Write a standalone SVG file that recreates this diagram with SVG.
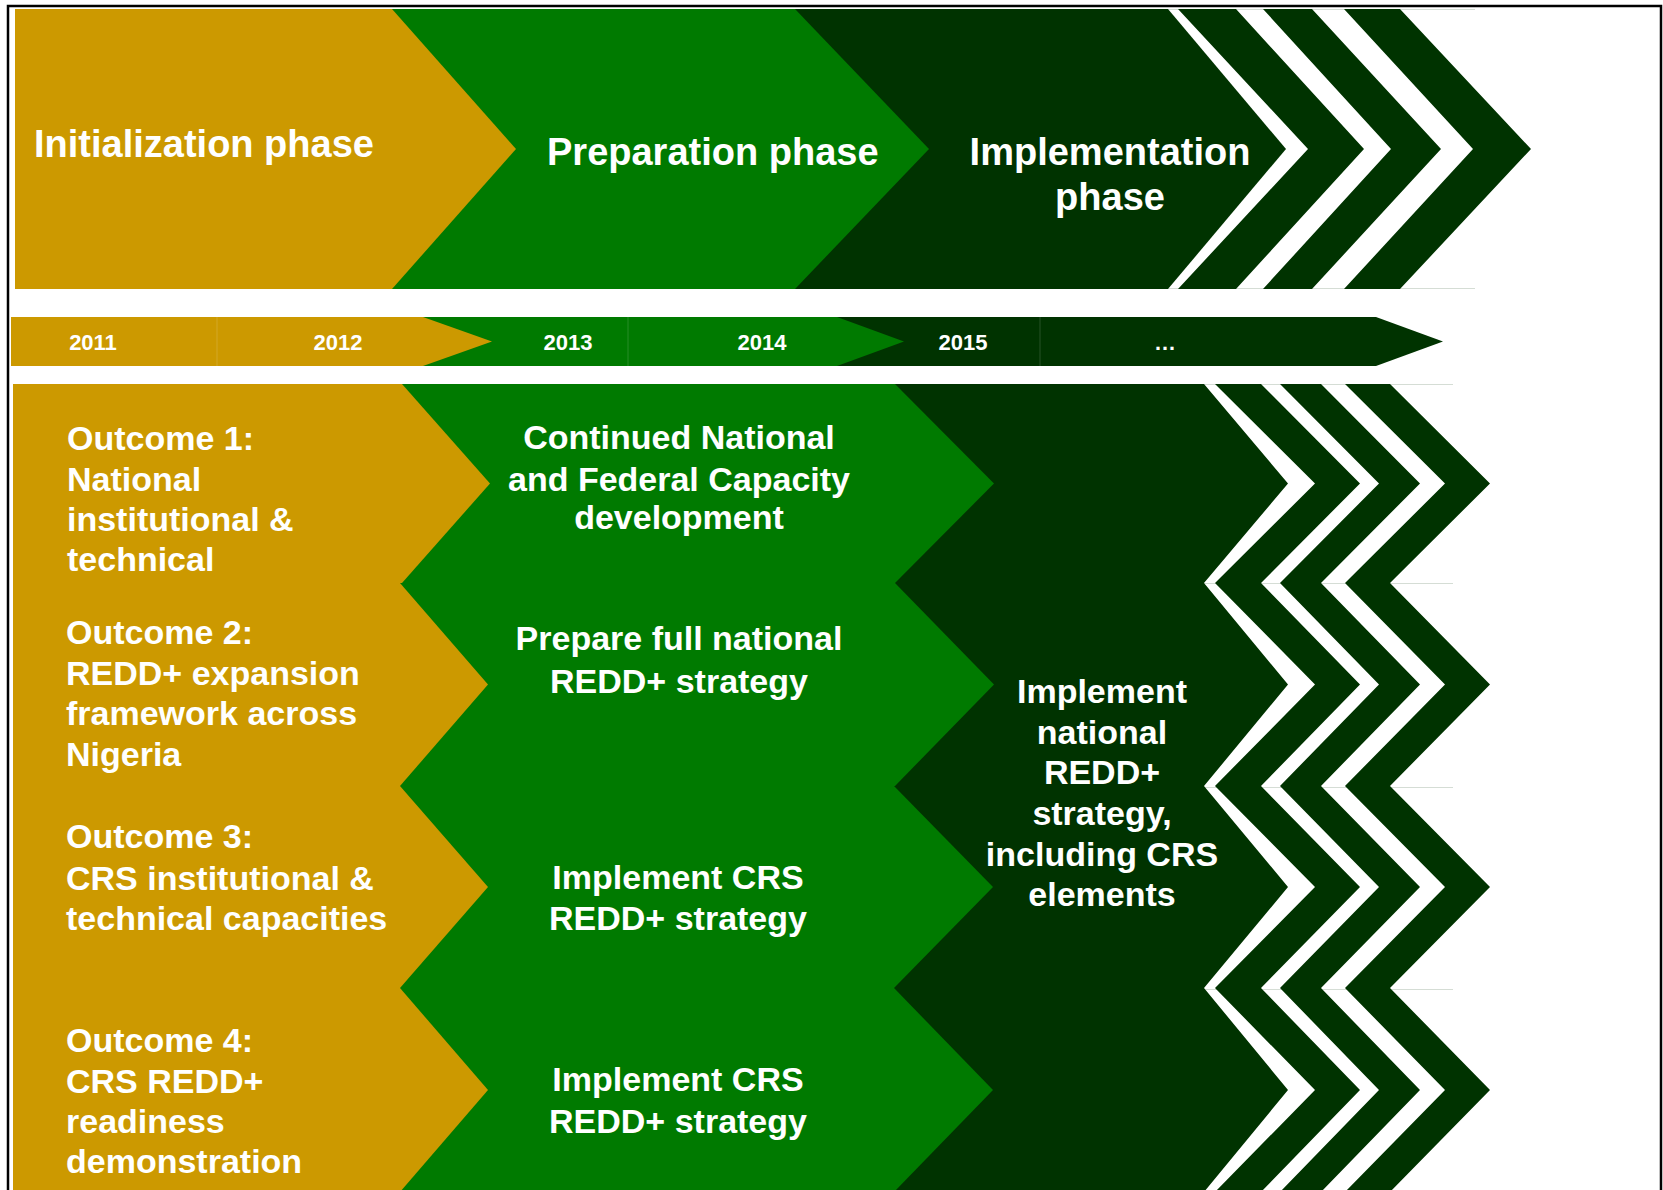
<svg xmlns="http://www.w3.org/2000/svg" width="1663" height="1190" viewBox="0 0 1663 1190">
<style>
.gold{fill:#CC9900}
.green{fill:#007A00}
.dark{fill:#003300}
.t{font-family:"Liberation Sans",Arial,sans-serif;font-weight:bold;fill:#FFFFFF}
.ph{font-size:38px}
.yr{font-size:22px;text-anchor:middle}
.bd{font-size:34px}
.c{text-anchor:middle}
.seam{stroke:#FFFFFF;stroke-opacity:0.15;stroke-width:1}
.grid{stroke:#D5DDD5;stroke-width:1}
</style>
<rect width="1663" height="1190" fill="#FFFFFF"/>

<!-- faint guide lines -->
<g id="guides" class="grid">
<line x1="1168" y1="9.5" x2="1475" y2="9.5"/>
<line x1="1168" y1="288.5" x2="1475" y2="288.5"/>
<line x1="1200" y1="384.5" x2="1453" y2="384.5"/>
<line x1="1200" y1="583.5" x2="1453" y2="583.5"/>
<line x1="1200" y1="787.5" x2="1453" y2="787.5"/>
<line x1="1200" y1="989.5" x2="1453" y2="989.5"/>
</g>

<!-- Top phase band -->
<g id="phase-implementation">
<polygon class="dark" points="700,9 1168,9 1286,149 1168,289 700,289"/>
<polygon class="dark" points="1178,9 1236,9 1364,149 1236,289 1178,289 1308,149"/>
<polygon class="dark" points="1263,9 1312,9 1441,149 1312,289 1263,289 1391,149"/>
<polygon class="dark" points="1344,9 1400,9 1531,149 1400,289 1344,289 1473,149"/>
<text class="t ph c" x="1110" y="165">Implementation</text>
<text class="t ph c" x="1110" y="210">phase</text>
</g>
<g id="phase-preparation">
<polygon class="green" points="380,9 795,9 929,149 795,289 380,289"/>
<text class="t ph" x="547" y="165">Preparation phase</text>
</g>
<g id="phase-initialization">
<polygon class="gold" points="15,9 392,9 516,149 392,289 15,289"/>
<text class="t ph" x="34" y="157">Initialization phase</text>
</g>

<!-- Year bar -->
<g id="year-2015-onward">
<rect class="dark" x="800" y="317" width="240" height="49"/>
<polygon class="dark" points="1040,317 1376,317 1443,341.5 1376,366 1040,366"/>
<line class="seam" x1="1040" y1="317" x2="1040" y2="366"/>
<text class="t yr" x="963" y="350">2015</text>
<text class="t yr" x="1165" y="350">…</text>
</g>
<g id="year-2013-2014">
<rect class="green" x="400" y="317" width="228" height="49"/>
<polygon class="green" points="628,317 837,317 904,341.5 837,366 628,366"/>
<line class="seam" x1="628" y1="317" x2="628" y2="366"/>
<text class="t yr" x="568" y="350">2013</text>
<text class="t yr" x="762" y="350">2014</text>
</g>
<g id="year-2011-2012">
<rect class="gold" x="11" y="317" width="206" height="49"/>
<polygon class="gold" points="217,317 423,317 492,341.5 423,366 217,366"/>
<line class="seam" x1="217" y1="317" x2="217" y2="366"/>
<text class="t yr" x="93" y="350">2011</text>
<text class="t yr" x="338" y="350">2012</text>
</g>

<!-- Implementation column (rows) -->
<g id="implement-national">
<polygon class="dark" points="840,384 1204,384 1288,483.5 1204,583 1288,684.5 1204,786 1288,887 1204,988 1288,1090 1204,1192 840,1192"/>
<polygon class="dark" points="1215,384 1261,384 1360,483.5 1261,583 1215,583 1315,483.5"/>
<polygon class="dark" points="1280,384 1321,384 1420,483.5 1321,583 1280,583 1379,483.5"/>
<polygon class="dark" points="1345,384 1390,384 1490,483.5 1390,583 1345,583 1445,483.5"/>
<polygon class="dark" points="1215,583 1261,583 1360,684.5 1261,786 1215,786 1315,684.5"/>
<polygon class="dark" points="1280,583 1321,583 1420,684.5 1321,786 1280,786 1379,684.5"/>
<polygon class="dark" points="1345,583 1390,583 1490,684.5 1390,786 1345,786 1445,684.5"/>
<polygon class="dark" points="1215,786 1261,786 1360,887 1261,988 1215,988 1315,887"/>
<polygon class="dark" points="1280,786 1321,786 1420,887 1321,988 1280,988 1379,887"/>
<polygon class="dark" points="1345,786 1390,786 1490,887 1390,988 1345,988 1445,887"/>
<polygon class="dark" points="1215,988 1261,988 1360,1090 1261,1192 1215,1192 1315,1090"/>
<polygon class="dark" points="1280,988 1321,988 1420,1090 1321,1192 1280,1192 1379,1090"/>
<polygon class="dark" points="1345,988 1390,988 1490,1090 1390,1192 1345,1192 1445,1090"/>
<text class="t bd c" x="1102" y="703">Implement</text>
<text class="t bd c" x="1102" y="744">national</text>
<text class="t bd c" x="1102" y="784">REDD+</text>
<text class="t bd c" x="1102" y="825">strategy,</text>
<text class="t bd c" x="1102" y="866">including CRS</text>
<text class="t bd c" x="1102" y="906">elements</text>
</g>

<!-- Preparation column -->
<g id="prep-row1">
<polygon class="green" points="380,384 895,384 994,483.5 895,583 380,583"/>
<text class="t bd c" x="679" y="449">Continued National</text>
<text class="t bd c" x="679" y="491">and Federal Capacity</text>
<text class="t bd c" x="679" y="529">development</text>
</g>
<g id="prep-row2">
<polygon class="green" points="380,583 895,583 994,684.5 895,786 380,786"/>
<text class="t bd c" x="679" y="650">Prepare full national</text>
<text class="t bd c" x="679" y="693">REDD+ strategy</text>
</g>
<g id="prep-row3">
<polygon class="green" points="380,786 894,786 993,887 894,988 380,988"/>
<text class="t bd c" x="678" y="889">Implement CRS</text>
<text class="t bd c" x="678" y="930">REDD+ strategy</text>
</g>
<g id="prep-row4">
<polygon class="green" points="380,988 894,988 993,1090 894,1192 380,1192"/>
<text class="t bd c" x="678" y="1091">Implement CRS</text>
<text class="t bd c" x="678" y="1133">REDD+ strategy</text>
</g>

<!-- Outcomes column -->
<g id="outcome-1">
<polygon class="gold" points="13,384 402,384 490,483.5 402,583 13,583"/>
<text class="t bd" x="67" y="450">Outcome 1:</text>
<text class="t bd" x="67" y="491">National</text>
<text class="t bd" x="67" y="531">institutional &amp;</text>
<text class="t bd" x="67" y="571">technical</text>
</g>
<g id="outcome-2">
<polygon class="gold" points="13,583 400,583 488,684.5 400,786 13,786"/>
<text class="t bd" x="66" y="644">Outcome 2:</text>
<text class="t bd" x="66" y="685">REDD+ expansion</text>
<text class="t bd" x="66" y="725">framework across</text>
<text class="t bd" x="66" y="766">Nigeria</text>
</g>
<g id="outcome-3">
<polygon class="gold" points="13,786 400,786 488,887 400,988 13,988"/>
<text class="t bd" x="66" y="848">Outcome 3:</text>
<text class="t bd" x="66" y="890">CRS institutional &amp;</text>
<text class="t bd" x="66" y="930">technical capacities</text>
</g>
<g id="outcome-4">
<polygon class="gold" points="13,988 400,988 488,1090 400,1192 13,1192"/>
<text class="t bd" x="66" y="1052">Outcome 4:</text>
<text class="t bd" x="66" y="1093">CRS REDD+</text>
<text class="t bd" x="66" y="1133">readiness</text>
<text class="t bd" x="66" y="1173">demonstration</text>
</g>

<g id="connectors"></g>

<!-- Frame -->
<path id="frame" d="M8,1192 V6 H1661 V1192" fill="none" stroke="#000000" stroke-width="2.5"/>
</svg>
